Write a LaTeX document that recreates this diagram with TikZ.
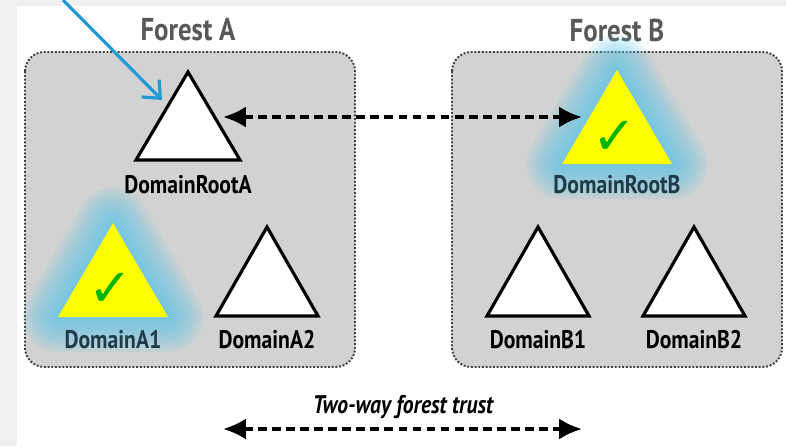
\documentclass[tikz,border=0pt]{standalone}
\usepackage{fontspec}
\usetikzlibrary{arrows.meta}
\newfontfamily\labelfont{PT Sans}[FakeStretch=0.85]
\newfontfamily\symfont{DejaVu Sans}
\definecolor{boxgray}{HTML}{D2D2D2}
\definecolor{glowblue}{HTML}{4FC3EA}
\definecolor{arrowblue}{HTML}{1E9BD7}
\definecolor{tickgreen}{HTML}{00B400}
\definecolor{trustyellow}{HTML}{FFFF00}
\definecolor{labelblue}{HTML}{1F3A48}

\begin{document}
\begin{tikzpicture}[x=0.02cm,y=-0.02cm,
forest/.style={fill=boxgray,draw=black!75,line width=1.1pt,dash pattern=on 1.1pt off 1pt,rounded corners=11pt},
title/.style={font=\labelfont\bfseries\fontsize{18}{20}\selectfont,text=black!65,inner sep=0pt},
domlabel/.style={font=\labelfont\bfseries\fontsize{14.5}{16}\selectfont,inner sep=0pt},
plain/.style={draw=black,line width=1.8pt,fill=white},
trusted/.style={fill=trustyellow},
glow/.style={draw=glowblue,fill=glowblue,line join=round,line width=#1,opacity=0.12},
tick/.style={font=\symfont\bfseries\fontsize{30}{30}\selectfont,text=tickgreen,inner sep=0pt},
trust/.style={line width=2.2pt,dash pattern=on 5pt off 3pt,{Latex[length=13pt,width=12pt]}-{Latex[length=13pt,width=12pt]}}]

\useasboundingbox (0,0) rectangle (786,446);
\fill[black!6] (0,0) rectangle (786,446);
\fill[white] (17,6) rectangle (786,446);

% the two forests
\draw[forest] (25,52) rectangle (355,367);
\draw[forest] (452,52) rectangle (782,367);
\node[title] (forestA) at (188,30) {Forest A};
\node[title] (forestB) at (617,30) {Forest B};

% forest A
\draw[plain] (188,72) -- (240,160) -- (136,160) -- cycle;
\node[domlabel] (rootA) at (188,185) {DomainRootA};

\foreach \w in {40,35,...,5}
  \draw[glow=\w pt] (113,223) -- (168,317) -- (58,317) -- cycle;
\fill[trusted] (113,223) -- (168,317) -- (58,317) -- cycle;
\node[tick] (tickA1) at (111,290) {✓};
\node[domlabel,text=labelblue] (domA1) at (113,340) {DomainA1};

\draw[plain] (267,227) -- (318,316) -- (216,316) -- cycle;
\node[domlabel] (domA2) at (267,340) {DomainA2};

% forest B
\foreach \w in {40,35,...,5}
  \draw[glow=\w pt] (617,70) -- (672,164) -- (562,164) -- cycle;
\fill[trusted] (617,70) -- (672,164) -- (562,164) -- cycle;
\node[tick] (tickB) at (615,138) {✓};
\node[domlabel,text=labelblue] (rootB) at (617,185) {DomainRootB};

\draw[plain] (538,227) -- (589,316) -- (487,316) -- cycle;
\node[domlabel] (domB1) at (538,340) {DomainB1};
\draw[plain] (694,227) -- (745,316) -- (643,316) -- cycle;
\node[domlabel] (domB2) at (694,340) {DomainB2};

% trust between the roots
\coordinate (rootA-e) at (223,117);
\coordinate (rootB-w) at (582,117);
\draw[trust] (rootA-e) -- (rootB-w);

% legend
\node[domlabel,font=\labelfont\bfseries\itshape\fontsize{14.5}{16}\selectfont] (legend) at (403,407) {Two-way forest trust};
\coordinate (legend-w) at (223,429);
\coordinate (legend-e) at (582,429);
\draw[trust] (legend-w) -- (legend-e);

% pointer
\coordinate (pointer) at (63,0);
\coordinate (rootA-tip) at (162,100);
\draw[arrowblue,line width=1.8pt,-{Straight Barb[length=8pt,width=14pt]}] (pointer) -- (rootA-tip);
\end{tikzpicture}
\end{document}
